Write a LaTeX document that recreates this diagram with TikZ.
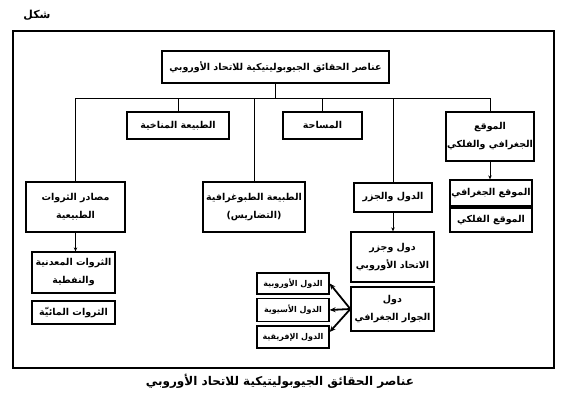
\documentclass[tikz,border=0pt]{standalone}
\usepackage{fontspec}
\usepackage{tikz}
\usetikzlibrary{arrows.meta, positioning, calc}
\TeXXeTstate=1
\newfontfamily\arabicfont[Script=Arabic]{DejaVu Sans}
\newcommand{\artxt}[1]{\beginR #1\endR}
\tikzset{
  box/.style={rectangle, draw=black, line width=1.3pt, align=center,
    inner sep=1pt, font=\arabicfont\bfseries\fontsize{9.5}{18}\selectfont},
  titlebox/.style={box, line width=2.2pt},
  smallbox/.style={box, font=\arabicfont\bfseries\fontsize{8}{9}\selectfont},
  link/.style={line width=0.9pt},
  arrow/.style={-{Stealth[length=4pt, width=3.5pt]}, line width=0.9pt},
  thickarrow/.style={-{Stealth[length=6pt, width=5pt]}, line width=1.8pt}
}
\begin{document}
\begin{tikzpicture}[x=1pt, y=-1pt]
  \useasboundingbox (0,0) rectangle (567,401);
  % Frame and labels
  \node[font=\arabicfont\bfseries\fontsize{11}{12}\selectfont] (fig) at (37,15) {\artxt{شكل}};
  \draw[line width=2.2pt] (13,31) rectangle (554,368);
  \node[font=\arabicfont\bfseries\fontsize{12}{14}\selectfont] (caption) at (280,381) {\artxt{عناصر الحقائق الجيوبوليتيكية للاتحاد الأوروبي}};

  % Title
  \node[titlebox, minimum width=227pt, minimum height=32pt] (title) at (275.5,67) {\artxt{عناصر الحقائق الجيوبوليتيكية للاتحاد الأوروبي}};

  % First row
  \node[box, minimum width=102pt, minimum height=27pt] (climate) at (178,125.5) {\artxt{الطبيعة المناخية}};
  \node[box, minimum width=79pt, minimum height=27pt] (area) at (322.5,125.5) {\artxt{المساحة}};
  \node[box, minimum width=86pt, minimum height=49pt] (loc) at (490,136.5) {\artxt{الموقع}\\\artxt{الجغرافي والفلكي}};

  % Second row
  \node[box, minimum width=99pt, minimum height=50pt] (res) at (75.5,207) {\artxt{مصادر الثروات}\\\artxt{الطبيعية}};
  \node[box, minimum width=102pt, minimum height=50pt] (topo) at (254,207) {\artxt{الطبيعة الطبوغرافية}\\\artxt{(التضاريس)}};
  \node[box, minimum width=78pt, minimum height=29pt] (states) at (393,197.5) {\artxt{الدول والجزر}};

  % Sub-items
  \node[box, minimum width=82pt, minimum height=26pt] (locgeo) at (491,193) {\artxt{الموقع الجغرافي}};
  \node[box, minimum width=82pt, minimum height=24pt] (locast) at (491,220) {\artxt{الموقع الفلكي}};
  \node[box, minimum width=83pt, minimum height=41pt] (mineral) at (73.5,272.5) {\artxt{الثروات المعدنية}\\\artxt{والنفطية}};
  \node[box, minimum width=83pt, minimum height=23pt] (water) at (73.5,312.5) {\artxt{الثروات المائيّة}};
  \node[box, minimum width=83pt, minimum height=50pt] (eustates) at (392.5,257) {\artxt{دول وجزر}\\\artxt{الاتحاد الأوروبي}};
  \node[box, minimum width=83pt, minimum height=44pt] (neigh) at (392.5,309) {\artxt{دول}\\\artxt{الجوار الجغرافي}};

  % Neighbour groups
  \node[smallbox, minimum width=72pt, minimum height=21pt] (eu) at (293,283.5) {\artxt{الدول الأوروبية}};
  \node[smallbox, minimum width=72pt, minimum height=23pt] (asia) at (293,310) {\artxt{الدول الأسيوية}};
  \node[smallbox, minimum width=72pt, minimum height=22pt] (africa) at (293,337) {\artxt{الدول الإفريقية}};

  % Tree lines
  \coordinate (bus) at (275.5,98);
  \draw[link] (title.south) -- (bus);
  \draw[link] (res.north |- bus) -- (loc.north |- bus);
  \foreach \n in {res, climate, topo, area, states, loc} {
    \draw[link] (\n.north) -- (\n.north |- bus);
  }

  % Arrows
  \draw[arrow] (loc.south) -- (loc.south |- locgeo.north);
  \draw[arrow] (res.south) -- (res.south |- mineral.north);
  \draw[arrow] (states.south) -- (states.south |- eustates.north);
  \draw[thickarrow] (neigh.west) -- (eu.east);
  \draw[thickarrow] (neigh.west) -- (asia.east);
  \draw[thickarrow] (neigh.west) -- ([yshift=5pt]africa.east);
\end{tikzpicture}
\end{document}
